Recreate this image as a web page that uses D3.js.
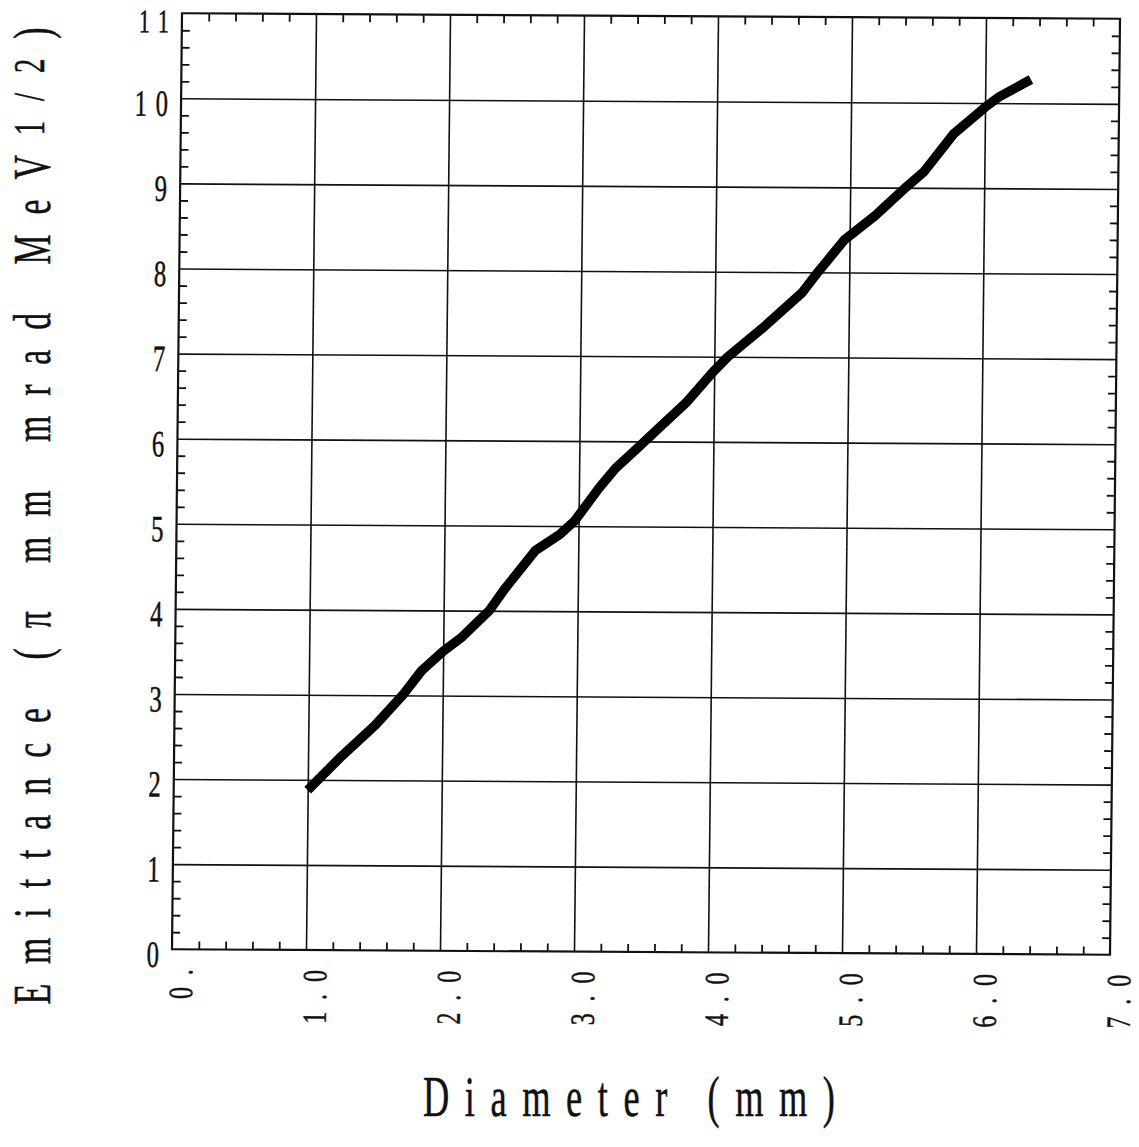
<!DOCTYPE html>
<html>
<head>
<meta charset="utf-8">
<script src="https://cdn.jsdelivr.net/npm/d3@7"></script>
<style>
  html, body { margin: 0; padding: 0; background: #fff; }
  svg { display: block; }
  text { font-family: "Liberation Serif", "DejaVu Serif", serif; fill: #111; stroke: #111; stroke-width: 0.5; }
</style>
</head>
<body>
<svg id="chart" width="1139" height="1147"></svg>
<script>
// ---- data ----
const diameter  = [1.0, 1.25, 1.5, 1.7, 1.84, 2.0, 2.14, 2.34, 2.46, 2.68, 2.86, 2.97, 3.15, 3.27, 3.44, 3.6, 3.8, 3.99, 4.1, 4.35, 4.65, 4.77, 4.96, 5.19, 5.42, 5.55, 5.77, 6.0, 6.1, 6.34];
const emittance = [1.88, 2.28, 2.65, 3.0, 3.29, 3.52, 3.69, 4.0, 4.27, 4.71, 4.9, 5.06, 5.45, 5.68, 5.93, 6.17, 6.47, 6.82, 7.0, 7.33, 7.76, 8.01, 8.38, 8.67, 9.01, 9.19, 9.64, 9.95, 10.07, 10.28];
const xTickValues = [0, 1, 2, 3, 4, 5, 6, 7];
const xTickLabels = ["0.", "1.0", "2.0", "3.0", "4.0", "5.0", "6.0", "7.0"];
const yTickValues = [0, 1, 2, 3, 4, 5, 6, 7, 8, 9, 10, 11];
const yTickLabels = ["0", "1", "2", "3", "4", "5", "6", "7", "8", "9", "10", "11"];
const xTitle = "Diameter (mm)";
const yTitleMain = "Emittance (\u03C0 mm mrad MeV";
const yTitleSup = "1/2";
const yTitleEnd = ")";

// ---- layout ----
const svg = d3.select("#chart");
svg.append("rect").attr("width", 1139).attr("height", 1147).attr("fill", "#fff");

const L = 177, R = 1115, T = 16, B = 952;
const x = d3.scaleLinear().domain([0, 7]).range([L, R]);
const y = d3.scaleLinear().domain([0, 11]).range([B, T]);

// slight shear of the scanned original
const cx = (L + R) / 2, cy = (T + B) / 2;
const sb = 0.0059, sc = -0.0107;
const plot = svg.append("g")
  .attr("transform", `matrix(1,${sb},${sc},1,${-sc * cy},${-sb * cx})`);

// grid lines via axes
const gridX = d3.axisBottom(x).tickValues(xTickValues.slice(1, -1)).tickSize(-(B - T)).tickFormat("");
plot.append("g").attr("transform", `translate(0,${B})`).call(gridX)
  .call(g => g.select(".domain").remove())
  .selectAll("line").attr("stroke", "#111").attr("stroke-width", 1.6);
const gridY = d3.axisLeft(y).tickValues(yTickValues.slice(1, -1)).tickSize(-(R - L)).tickFormat("");
plot.append("g").attr("transform", `translate(${L},0)`).call(gridY)
  .call(g => g.select(".domain").remove())
  .selectAll("line").attr("stroke", "#111").attr("stroke-width", 1.6);

// minor ticks (inward) on all four sides
const xMinor = d3.range(0, 35).map(i => i / 5).filter(v => Math.abs(v - Math.round(v)) > 1e-6);
const yMinor = d3.range(0, 55).map(i => i / 5).filter(v => Math.abs(v - Math.round(v)) > 1e-6);
const tl = 8;
function styleTicks(g) {
  g.select(".domain").remove();
  g.selectAll("line").attr("stroke", "#111").attr("stroke-width", 1.8);
}
plot.append("g").attr("transform", `translate(0,${B})`)
  .call(d3.axisBottom(x).tickValues(xMinor).tickSize(-tl).tickFormat("")).call(styleTicks);
plot.append("g").attr("transform", `translate(0,${T})`)
  .call(d3.axisTop(x).tickValues(xMinor).tickSize(-tl).tickFormat("")).call(styleTicks);
plot.append("g").attr("transform", `translate(${L},0)`)
  .call(d3.axisLeft(y).tickValues(yMinor).tickSize(-tl).tickFormat("")).call(styleTicks);
plot.append("g").attr("transform", `translate(${R},0)`)
  .call(d3.axisRight(y).tickValues(yMinor).tickSize(-tl).tickFormat("")).call(styleTicks);

// frame
plot.append("rect").attr("x", L).attr("y", T).attr("width", R - L).attr("height", B - T)
  .attr("fill", "none").attr("stroke", "#111").attr("stroke-width", 2.2);

// data line
const line = d3.line().x((d, i) => x(diameter[i])).y((d, i) => y(emittance[i]));
plot.append("path").datum(diameter).attr("d", line)
  .attr("fill", "none").attr("stroke", "#000").attr("stroke-width", 9.5)
  .attr("stroke-linejoin", "round").attr("stroke-linecap", "butt");

// y tick labels (the top one is slightly smaller in the original)
const yls = 13, ysx = 0.67;
const yMax = d3.max(yTickValues);
plot.append("g").selectAll("g").data(yTickValues).join("g")
  .attr("transform", d => `translate(${L - 13 + yls * ysx},${y(d) + (d === yMax ? 8 : 5)}) scale(${ysx},1)`)
  .append("text")
  .attr("text-anchor", "end").attr("dy", "0.34em")
  .attr("font-size", d => d === yMax ? 33 : 37).attr("letter-spacing", yls)
  .text((d, i) => yTickLabels[i]);

// x tick labels (rotated)
const xls = 17, xsx = 0.7;
plot.append("g").selectAll("g").data(xTickValues).join("g")
  .attr("transform", d => `translate(${x(d) + 9},${972 - xls * xsx}) rotate(-90) scale(${xsx},1)`)
  .append("text")
  .attr("text-anchor", "end").attr("dy", "0.34em")
  .attr("font-size", 34).attr("letter-spacing", xls)
  .text((d, i) => xTickLabels[i]);

// axis titles
const xt = svg.append("g").attr("transform", `translate(629,1116) scale(0.65,1)`);
xt.append("text").attr("text-anchor", "middle").attr("font-size", 56)
  .attr("textLength", 412 / 0.65).attr("lengthAdjust", "spacing")
  .text(xTitle);

const yt = svg.append("g").attr("transform", `translate(50,516) rotate(-90) scale(0.65,1)`);
const ytext = yt.append("text").attr("text-anchor", "middle").attr("font-size", 52)
  .attr("textLength", 977 / 0.65).attr("lengthAdjust", "spacing");
ytext.append("tspan").text(yTitleMain);
ytext.append("tspan").attr("font-size", 44).attr("dy", -6).text(yTitleSup);
ytext.append("tspan").attr("font-size", 52).attr("dy", 6).text(yTitleEnd);
</script>
</body>
</html>
